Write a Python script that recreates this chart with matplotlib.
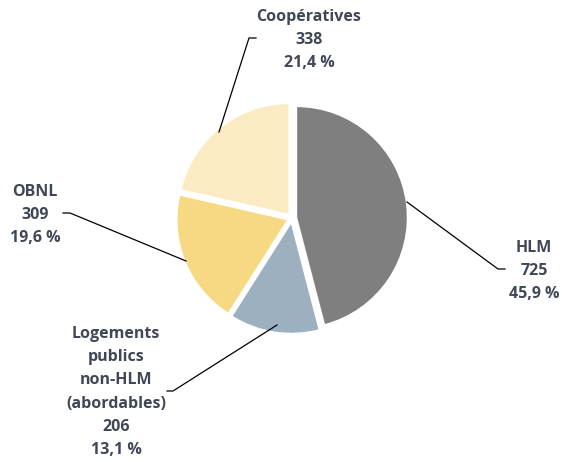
import matplotlib
matplotlib.use("Agg")
import matplotlib.pyplot as plt

W, H = 562, 462

categories = ["HLM", "Logements\npublics\nnon-HLM\n(abordables)", "OBNL", "Coopératives"]
values = [725, 206, 309, 338]
percents = ["45,9 %", "13,1 %", "19,6 %", "21,4 %"]
colors = ["#7f7f7f", "#9db0c0", "#f7d984", "#fbebc3"]
TEXT_COLOR = "#404756"

# label anchors (pixel coords, top-left origin) and leader polylines
label_pos = [(534, 271), (116, 392), (35, 215), (309, 40)]
leaders = [
    [(407, 202), (498, 269), (505, 269)],
    [(277, 325), (173, 391), (167, 391)],
    [(186, 261), (70, 213), (63, 213)],
    [(219, 132), (249, 38), (256, 38)],
]

fig = plt.figure(figsize=(W / 100, H / 100), dpi=100)
ax = fig.add_axes([0, 0, 1, 1])

# explode is in data units here (pixels)
ax.pie(
    values,
    colors=colors,
    startangle=90,
    counterclock=False,
    center=(292, H - 218),
    radius=111,
    explode=[4.5] * len(values),
    wedgeprops=dict(edgecolor="white", linewidth=1),
    frame=True,
)
ax.set_xlim(0, W)
ax.set_ylim(0, H)
ax.set_aspect("equal")
ax.axis("off")

for pts in leaders:
    xs = [p[0] for p in pts]
    ys = [H - p[1] for p in pts]
    ax.plot(xs, ys, color="black", linewidth=0.9)

for cat, val, pct, (x, y) in zip(categories, values, percents, label_pos):
    ax.text(x, H - y, f"{cat}\n{val}\n{pct}", ha="center", va="center",
            fontsize=11.5, fontweight="bold", family=["Open Sans", "DejaVu Sans"],
            color=TEXT_COLOR, linespacing=1.6)

fig.savefig("out.png", dpi=100)
